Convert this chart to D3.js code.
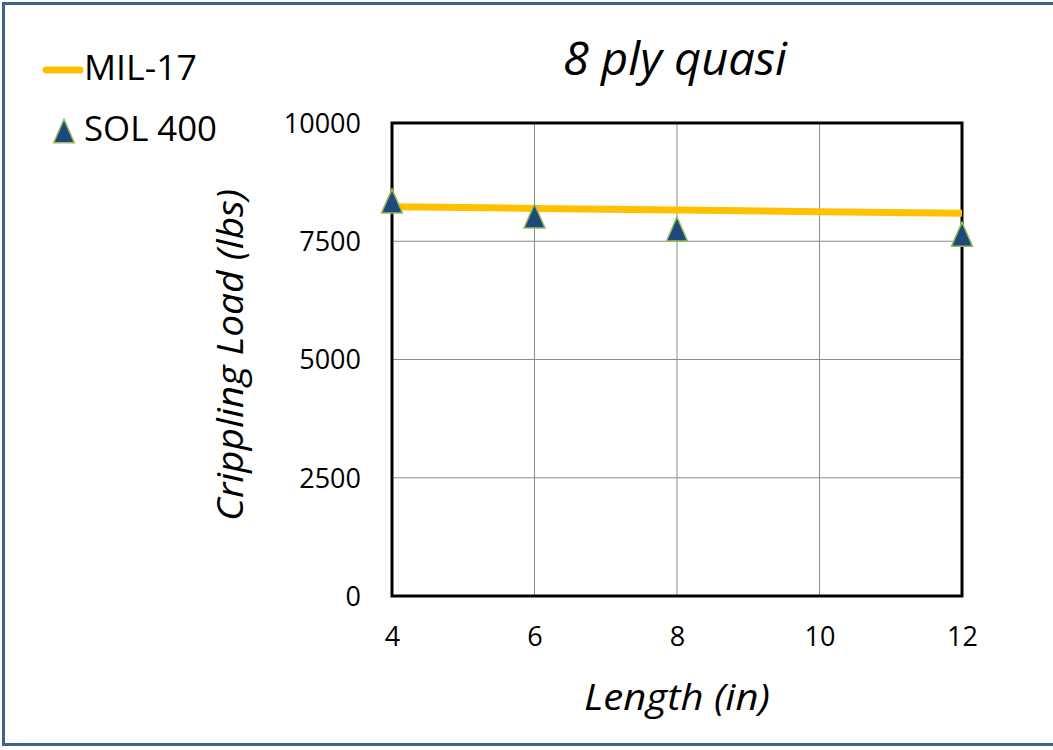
<!DOCTYPE html>
<html>
<head>
<meta charset="utf-8">
<script src="https://cdn.jsdelivr.net/npm/d3@7"></script>
<style>
  body { margin: 0; background: #fff; }
  text { font-family: "Open Sans", sans-serif; fill: #000; }
</style>
</head>
<body>
<svg width="1053" height="750"></svg>
<script>
// data
var lengths = [4, 6, 8, 10, 12];
var milLoads = [8230, 8195, 8160, 8125, 8090];
var solLengths = [4, 6, 8, 12];
var solLoads = [8350, 8035, 7760, 7650];
var yTicks = [0, 2500, 5000, 7500, 10000];

var svg = d3.select("svg");

// outer frame
svg.append("rect")
  .attr("x", 3.5).attr("y", 3.5)
  .attr("width", 1100).attr("height", 741)
  .attr("fill", "none")
  .attr("stroke", "#3e6190")
  .attr("stroke-width", 3);

var x = d3.scaleLinear().domain([4, 12]).range([392, 962]);
var y = d3.scaleLinear().domain([0, 10000]).range([596, 123]);

// grid
var grid = svg.append("g");
grid.selectAll(".gx").data(lengths).enter().append("line")
  .attr("x1", d => x(d)).attr("x2", d => x(d))
  .attr("y1", y(0)).attr("y2", y(10000))
  .attr("stroke", "#8c8c8c").attr("stroke-width", 1);
grid.selectAll(".gy").data(yTicks).enter().append("line")
  .attr("x1", x(4)).attr("x2", x(12))
  .attr("y1", d => y(d)).attr("y2", d => y(d))
  .attr("stroke", "#8c8c8c").attr("stroke-width", 1);

// plot border
svg.append("rect")
  .attr("x", x(4)).attr("y", y(10000))
  .attr("width", x(12) - x(4)).attr("height", y(0) - y(10000))
  .attr("fill", "none")
  .attr("stroke", "#000")
  .attr("stroke-width", 3);

// axes (labels only)
var yAxis = d3.axisLeft(y).tickValues(yTicks).tickFormat(d3.format("d"))
  .tickSize(0).tickPadding(31);
svg.append("g")
  .attr("transform", "translate(" + x(4) + ",0)")
  .call(yAxis)
  .attr("font-family", null).attr("font-size", null)
  .call(g => g.select(".domain").remove())
  .selectAll("text")
  .style("font-size", "27px")
  .attr("dy", "0.35em");

var xAxis = d3.axisBottom(x).tickValues(lengths).tickSize(0).tickPadding(31);
svg.append("g")
  .attr("transform", "translate(0," + y(0) + ")")
  .call(xAxis)
  .attr("font-family", null).attr("font-size", null)
  .call(g => g.select(".domain").remove())
  .selectAll("text")
  .style("font-size", "27px");

// MIL-17 line
var line = d3.line().x(d => x(d[0])).y(d => y(d[1]));
svg.append("path")
  .datum(lengths.map((d, i) => [d, milLoads[i]]))
  .attr("d", line)
  .attr("fill", "none")
  .attr("stroke", "#ffc000")
  .attr("stroke-width", 7);

// tall triangle marker (about 21 wide, 24 high)
var tallTriangle = {
  draw: function (ctx, size) {
    var w = Math.sqrt(size) * 0.93, h = w * 1.14;
    ctx.moveTo(0, -h / 2);
    ctx.lineTo(w / 2, h / 2);
    ctx.lineTo(-w / 2, h / 2);
    ctx.closePath();
  }
};

// SOL 400 triangles
var tri = d3.symbol().type(tallTriangle).size(510);
svg.selectAll(".sol").data(solLengths).enter().append("path")
  .attr("d", tri)
  .attr("transform", (d, i) => "translate(" + x(d) + "," + y(solLoads[i]) + ")")
  .attr("fill", "#1f497d")
  .attr("stroke", "#9bbb59")
  .attr("stroke-width", 1.5);

// titles
svg.append("text")
  .attr("x", 675).attr("y", 75)
  .attr("text-anchor", "middle")
  .style("font-size", "46px")
  .style("font-style", "italic")
  .attr("textLength", 224)
  .attr("lengthAdjust", "spacingAndGlyphs")
  .text("8 ply quasi");

svg.append("text")
  .attr("x", 677).attr("y", 710)
  .attr("text-anchor", "middle")
  .style("font-size", "36px")
  .style("font-style", "italic")
  .attr("textLength", 186)
  .attr("lengthAdjust", "spacingAndGlyphs")
  .text("Length (in)");

svg.append("text")
  .attr("transform", "translate(243,355) rotate(-90)")
  .attr("text-anchor", "middle")
  .style("font-size", "36px")
  .style("font-style", "italic")
  .attr("textLength", 332)
  .attr("lengthAdjust", "spacingAndGlyphs")
  .text("Crippling Load (lbs)");

// legend
svg.append("line")
  .attr("x1", 46).attr("x2", 80)
  .attr("y1", 70).attr("y2", 70)
  .attr("stroke", "#ffc000")
  .attr("stroke-width", 7)
  .attr("stroke-linecap", "round");
svg.append("text")
  .attr("x", 84).attr("y", 80)
  .style("font-size", "35px")
  .attr("textLength", 113)
  .attr("lengthAdjust", "spacingAndGlyphs")
  .text("MIL-17");

svg.append("path")
  .attr("d", d3.symbol().type(tallTriangle).size(490))
  .attr("transform", "translate(64,131)")
  .attr("fill", "#1f497d")
  .attr("stroke", "#9bbb59")
  .attr("stroke-width", 1.5);
svg.append("text")
  .attr("x", 84).attr("y", 141)
  .style("font-size", "35px")
  .attr("textLength", 133)
  .attr("lengthAdjust", "spacingAndGlyphs")
  .text("SOL 400");
</script>
</body>
</html>
